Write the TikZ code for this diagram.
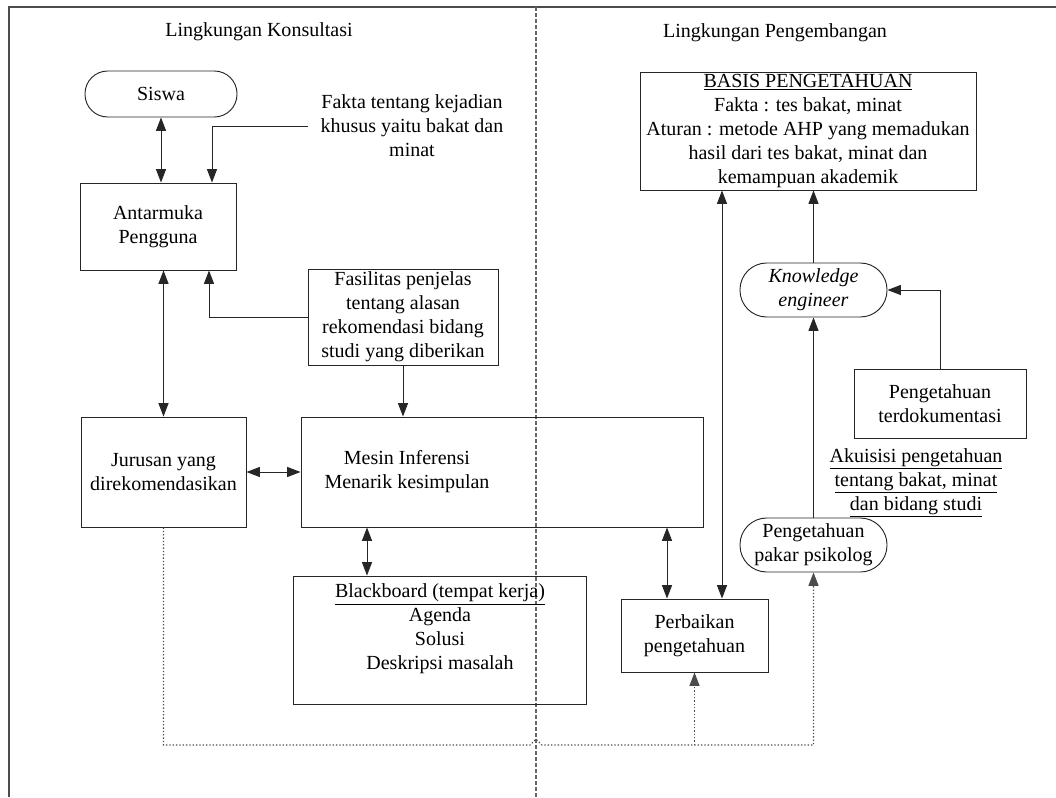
\documentclass[tikz,border=0pt]{standalone}
\usepackage{fontspec}
\setmainfont{Liberation Serif}
\usetikzlibrary{arrows.meta,calc}

\begin{document}
\begin{tikzpicture}[x=0.75pt,y=-0.75pt,
  every node/.style={font=\fontsize{15}{18}\selectfont, align=center, inner sep=0pt},
  box/.style={draw=black!85, line width=0.7pt, rectangle},
  pill/.style={draw=black!85, line width=0.7pt, rectangle, rounded corners=#1},
  sz/.style 2 args={minimum width=#1*0.75pt, minimum height=#2*0.75pt},
  tip/.tip={Triangle[length=10pt,width=7.5pt]},
  conn/.style={draw=black!85, line width=0.7pt, -tip},
  dconn/.style={draw=black!85, line width=0.7pt, tip-tip},
  dots/.style={draw=black!70, line width=0.8pt, dash pattern=on 1pt off 1.5pt, -tip},
  ]
\useasboundingbox (0,0) rectangle (1056,797);

% outer frame and the dividing line between the two environments
\coordinate (fright) at (1056,7);
\coordinate (fcorner) at (9,7);
\coordinate (fbottom) at (9,797);
\draw[black!70, line width=1.2pt] (fright) -- (fcorner) -- (fbottom);
\coordinate (divtop) at (536,7);
\coordinate (divbot) at (536,797);
\draw[black!60, line width=0.9pt, dash pattern=on 3pt off 1.5pt] (divtop) -- (divbot);

% headings
\node (konsul) at (259,32) {Lingkungan Konsultasi};
\node (pengemb) at (775,33) {Lingkungan Pengembangan};

% consultation environment
\node[pill=17pt, sz={152}{46}] (siswa) at (161,94) {Siswa};
\node (fakta) at (412,126) {Fakta tentang kejadian\\khusus yaitu bakat dan\\minat};
\node[box, sz={156}{87}] (antar) at (158,226.5) {Antarmuka\\Pengguna};
\node[box, sz={190}{96}] (fas) at (403,317) {Fasilitas penjelas\\tentang alasan\\rekomendasi bidang\\studi yang diberikan};
\node[box, sz={165}{110}] (jur) at (163.5,472) {Jurusan yang\\direkomendasikan};
\node[box, sz={402}{110}] (mesin) at (502,472) {};
\node (mesintxt) at (407,472) {Mesin Inferensi\\Menarik kesimpulan};
\node[box, sz={293}{128}] (bb) at (439.5,640) {};
\node (bbtxt) at (440,629) {\underline{Blackboard (tempat kerja)}\\Agenda\\Solusi\\Deskripsi masalah};

% development environment
\node[box, sz={147}{73}] (perb) at (694.5,635.5) {Perbaikan\\pengetahuan};
\node[box, sz={336}{118}] (basis) at (808,131) {\underline{BASIS PENGETAHUAN}\\Fakta : tes bakat, minat\\Aturan : metode AHP yang memadukan\\hasil dari tes bakat, minat dan\\kemampuan akademik};
\node[pill=20pt, sz={147}{54}] (ke) at (813.5,290) {\textit{Knowledge}\\\textit{engineer}};
\node[box, sz={172}{69}] (terdok) at (940,403.5) {Pengetahuan\\terdokumentasi};
\node (akuisisi) at (916,483) {\underline{Akuisisi pengetahuan}\\\underline{tentang bakat, minat}\\\underline{dan bidang studi}};
\node[pill=20pt, sz={147}{54}] (pakar) at (813.5,545) {Pengetahuan\\pakar psikolog};

% connectors
\draw[dconn] (siswa.south) -- (siswa.south |- antar.north);
\coordinate (faktain) at ($(antar.north)+(54,0)$);
\draw[conn] ($(fakta.west)+(-12,0)$) -| (faktain);
\coordinate (fasin) at ($(antar.south)+(51,0)$);
\draw[conn] (fas.west) -| (fasin);
\draw[dconn] (jur.north) -- (jur.north |- antar.south);
\draw[conn] (fas.south) -- (fas.south |- mesin.north);
\draw[dconn] (jur.east) -- (mesin.west |- jur.east);
\coordinate (mbb) at ($(mesin.south)+(-135,0)$);
\draw[dconn] (mbb) -- (mbb |- bb.north);
\coordinate (mpe) at ($(perb.north)+(-27.5,0)$);
\draw[dconn] (mpe |- mesin.south) -- (mpe);
\coordinate (bpe) at ($(basis.south)+(-86,0)$);
\draw[dconn] (bpe) -- (bpe |- perb.north);
\draw[conn] (ke.north) -- (ke.north |- basis.south);
\draw[conn] (pakar.north) -- (ke.south);
\draw[conn] (terdok.north) |- (ke.east);

% dotted feedback path, hopping over the divider
\coordinate (yb) at (0,745);
\draw[dots] (jur.south) -- (jur.south |- yb)
  -- ($(divbot |- yb)+(-6,0)$) -- ($(divbot |- yb)+(0,-6)$) -- ($(divbot |- yb)+(6,0)$)
  -- (pakar.south |- yb) -- (pakar.south);
\draw[dots] (perb.south |- yb) -- (perb.south);
\end{tikzpicture}
\end{document}
